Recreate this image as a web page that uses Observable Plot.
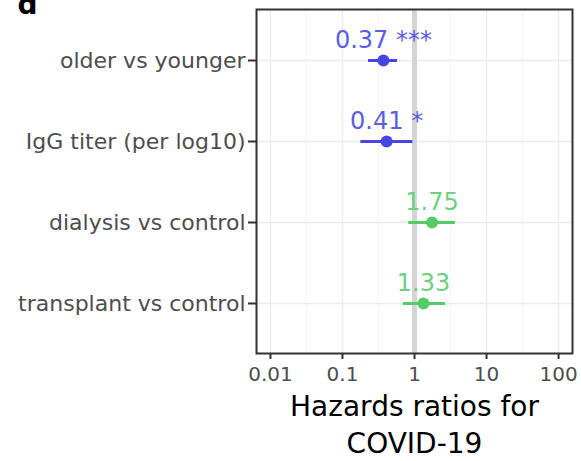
<!DOCTYPE html>
<html>
<head>
<meta charset="utf-8">
<script src="https://cdn.jsdelivr.net/npm/d3@7"></script>
<script src="https://cdn.jsdelivr.net/npm/@observablehq/plot@0.6"></script>
<style>
  html, body { margin: 0; padding: 0; background: #fff; }
  #chart { position: relative; width: 581px; height: 461px; overflow: hidden; }
</style>
</head>
<body>
<div id="chart"></div>
<script>
// ---- data ----
const comparisons = ["older vs younger", "IgG titer (per log10)", "dialysis vs control", "transplant vs control"];
const hazardRatios = [0.37, 0.41, 1.75, 1.33];
const ciLower = [0.23, 0.18, 0.83, 0.70];
const ciUpper = [0.58, 0.95, 3.7, 2.7];
const significance = ["***", "*", "", ""];
const groups = ["covariate", "covariate", "cohort", "cohort"];
const xTicks = [0.01, 0.1, 1, 10, 100];
const xTickLabels = ["0.01", "0.1", "1", "10", "100"];
const xMinorBreaks = [0.0316, 0.316, 3.16, 31.6];
const referenceHR = [1];
const axisTitle = "Hazards ratios for\nCOVID-19";
const panelTag = "d";

const rows = comparisons.map((c, i) => ({
  comparison: c, hr: hazardRatios[i], lo: ciLower[i], hi: ciUpper[i],
  sig: significance[i], group: groups[i]
}));

const pointColor = {covariate: "#4646e2", cohort: "#55cb68"};
const textColor = {covariate: "#5a5ee4", cohort: "#6bd17e"};

const svg = Plot.plot({
  width: 581,
  height: 461,
  marginLeft: 256,
  marginRight: 9,
  marginTop: 9,
  marginBottom: 108,
  style: {fontFamily: "'DejaVu Sans', sans-serif", fontSize: "21px", background: "#fff", overflow: "visible"},
  x: {type: "log", domain: [0.0064, 156], label: null},
  y: {type: "point", domain: comparisons, padding: 0.6, label: null},
  marks: [
    Plot.gridX(xMinorBreaks, {stroke: "#f2f2f2", strokeOpacity: 1, strokeWidth: 0.8}),
    Plot.gridX(xTicks, {stroke: "#ebebeb", strokeOpacity: 1, strokeWidth: 1.3}),
    Plot.gridY(comparisons, {stroke: "#ebebeb", strokeOpacity: 1, strokeWidth: 1.3}),
    Plot.ruleX(referenceHR, {stroke: "#d4d4d4", strokeWidth: 5}),
    Plot.ruleY(rows, {y: "comparison", x1: "lo", x2: "hi", stroke: d => pointColor[d.group], strokeWidth: 3}),
    Plot.dot(rows, {x: "hr", y: "comparison", r: 6, fill: d => pointColor[d.group], stroke: "none"}),
    Plot.text(rows, {
      x: "hr", y: "comparison",
      text: d => d.hr.toFixed(2) + (d.sig ? " " + d.sig : ""),
      fill: d => textColor[d.group],
      fontSize: 24, lineAnchor: "bottom", dy: -13
    }),
    Plot.frame({stroke: "#333", strokeWidth: 2}),
    Plot.axisX({ticks: xTicks, tickFormat: d => xTickLabels[xTicks.indexOf(d)], tickSize: 6, tickPadding: 7, stroke: "#333", fill: "#4d4d4d", strokeWidth: 2, label: null, fontSize: 20}),
    Plot.axisY({tickSize: 8, tickPadding: 3, stroke: "#333", fill: "#4d4d4d", strokeWidth: 2, label: null, fontSize: 22}),
    Plot.text([axisTitle], {text: d => d, frameAnchor: "bottom", lineAnchor: "top", dy: 36, fontSize: 28, lineHeight: 1.33, fill: "#000"}),
    Plot.text([panelTag], {text: d => d, frameAnchor: "top-left", textAnchor: "start", lineAnchor: "bottom", dx: -239, dy: 4, fontSize: 28, fontWeight: "bold", fill: "#000"})
  ]
});

document.getElementById("chart").appendChild(svg);
</script>
</body>
</html>
